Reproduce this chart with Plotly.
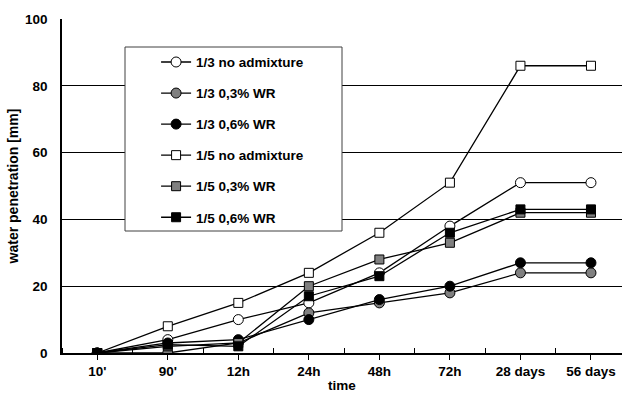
import plotly.graph_objects as go

categories = ["10'", "90'", "12h", "24h", "48h", "72h", "28 days", "56 days"]
s13_none = [0, 4, 10, 15, 24, 38, 51, 51]
s13_03 = [0, 0, 3, 12, 15, 18, 24, 24]
s13_06 = [0, 3, 4, 10, 16, 20, 27, 27]
s15_none = [0, 8, 15, 24, 36, 51, 86, 86]
s15_03 = [0, 2, 3, 20, 28, 33, 42, 42]
s15_06 = [0, 2.5, 2, 17, 23, 36, 43, 43]

series = [
    ("1/3 no admixture", s13_none, "circle", "white"),
    ("1/3 0,3% WR", s13_03, "circle", "#808080"),
    ("1/3 0,6% WR", s13_06, "circle", "black"),
    ("1/5 no admixture", s15_none, "square", "white"),
    ("1/5 0,3% WR", s15_03, "square", "#808080"),
    ("1/5 0,6% WR", s15_06, "square", "black"),
]

FONT = "Liberation Sans, Arial, sans-serif"
FS = 13.5
xs = list(range(len(categories)))

fig = go.Figure()
for i, (name, vals, sym, col) in enumerate(series):
    fig.add_trace(go.Scatter(
        x=xs, y=vals, mode="lines+markers", name="<b>" + name + "</b>",
        legendgroup=str(i),
        line=dict(color="black", width=1.3),
        marker=dict(symbol=sym, size=10 if sym == "circle" else 9, color=col,
                    line=dict(color="black", width=1)),
    ))

fig.update_layout(
    width=622, height=393,
    margin=dict(l=62, r=0, t=19, b=40),
    plot_bgcolor="white", paper_bgcolor="white",
    font=dict(family=FONT, size=FS, color="black"),
    showlegend=True,
    legend=dict(x=0.168, y=0.917, xanchor="left", yanchor="top",
                bgcolor="rgba(0,0,0,0)", borderwidth=0,
                traceorder="grouped", tracegroupgap=10.5, itemwidth=30,
                font=dict(family=FONT, size=FS, color="black")),
    shapes=[dict(type="rect", xref="paper", yref="paper",
                 x0=(125 - 62) / 560, x1=(342 - 62) / 560,
                 y0=(353 - 231) / 334, y1=(353 - 47) / 334,
                 fillcolor="white", line=dict(color="#404040", width=1),
                 layer="above")],
)

fig.update_xaxes(
    range=[-0.5, 7.44], automargin=False,
    tickmode="array", tickvals=xs, ticktext=["<b>" + c + "</b>" for c in categories],
    ticks="outside", ticklen=5, tickcolor="black",
    minor=dict(tickmode="linear", tick0=0.5, dtick=1, ticks="inside", ticklen=5, tickcolor="black"),
    showline=True, linecolor="black", linewidth=1.5,
    showgrid=False, zeroline=False,
    title=dict(text="<b>time</b>", standoff=6, font=dict(size=FS)),
    tickfont=dict(size=FS),
)
fig.update_yaxes(
    range=[0, 100], dtick=20, automargin=False,
    tickprefix="<b>", ticksuffix="</b>",
    ticks="", showline=True, linecolor="black", linewidth=1.5,
    showgrid=True, gridcolor="black", gridwidth=1,
    zeroline=False, ticklabelstandoff=10,
    title=dict(text="<b>water penetration [mm]</b>", standoff=3, font=dict(size=14)),
    tickfont=dict(size=FS),
)

fig.write_html("out.html", config={"displayModeBar": False},
               post_script="document.body.style.margin='0';")
